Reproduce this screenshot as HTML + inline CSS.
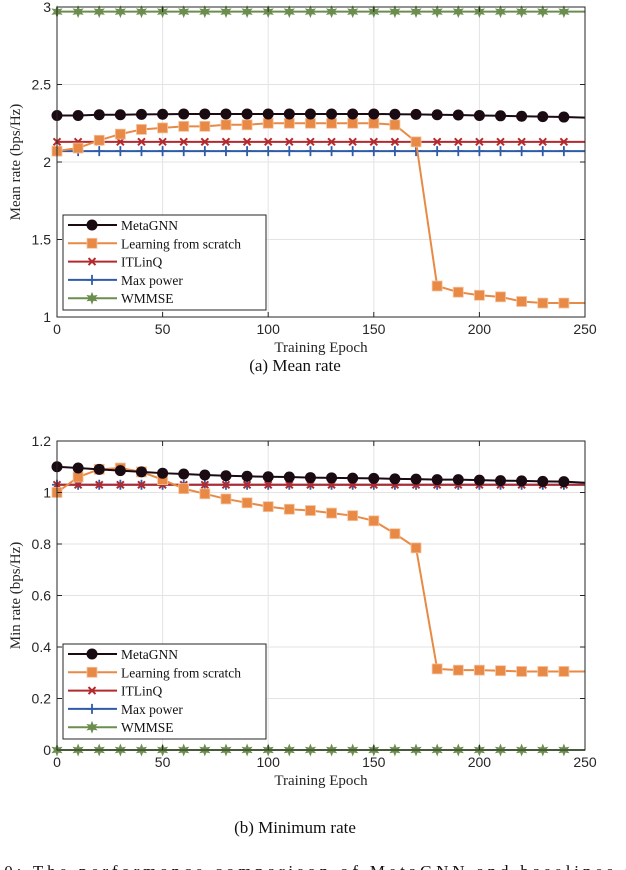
<!DOCTYPE html>
<html><head><meta charset="utf-8"><style>
body{margin:0;background:#fff;width:626px;height:870px;overflow:hidden}
svg{display:block}
</style></head><body>
<svg id="s" width="626" height="870" xmlns="http://www.w3.org/2000/svg"></svg>
<script>
const epochs=[0,10,20,30,40,50,60,70,80,90,100,110,120,130,140,150,160,170,180,190,200,210,220,230,240];
const meanMeta=[2.30,2.30,2.305,2.305,2.307,2.308,2.31,2.31,2.31,2.31,2.31,2.31,2.31,2.31,2.31,2.31,2.308,2.307,2.305,2.303,2.30,2.298,2.295,2.293,2.29];
const meanScratch=[2.07,2.09,2.14,2.18,2.21,2.22,2.23,2.23,2.24,2.24,2.25,2.25,2.25,2.25,2.25,2.25,2.24,2.13,1.20,1.16,1.14,1.13,1.10,1.09,1.09];
const meanITL=2.13, meanMax=2.07, meanWMMSE=2.97;
const minMeta=[1.10,1.095,1.09,1.085,1.08,1.075,1.072,1.068,1.065,1.063,1.061,1.06,1.058,1.057,1.056,1.055,1.053,1.052,1.05,1.05,1.048,1.046,1.045,1.043,1.042];
const minScratch=[1.00,1.06,1.09,1.095,1.08,1.05,1.015,0.995,0.975,0.96,0.945,0.935,0.93,0.92,0.91,0.89,0.84,0.785,0.315,0.31,0.31,0.308,0.305,0.305,0.305];
const minITL=1.03, minMax=1.03, minWMMSE=0.0;
const meanTicks=[1,1.5,2,2.5,3], minTicks=[0,0.2,0.4,0.6,0.8,1,1.2], xTicks=[0,50,100,150,200,250];
const NS="http://www.w3.org/2000/svg", S=document.getElementById('s');
function el(t,a,p){const e=document.createElementNS(NS,t);for(const k in a)e.setAttribute(k,a[k]);(p||S).appendChild(e);return e;}
const C={meta:'#1a0a12',scratch:'#e88a45',itl:'#b22a2e',max:'#2f5ba8',wm:'#6b8e4e'};
function marker(g,type,x,y,col){
  let m;
  if(type==='circle')m=el('circle',{cx:x,cy:y,r:5.5,fill:col},g);
  else if(type==='square')m=el('rect',{x:x-5,y:y-5,width:10,height:10,fill:col,stroke:'#f4c4a0','stroke-width':0.8},g);
  else if(type==='x')m=el('path',{d:`M${x-3.5},${y-3.5}L${x+3.5},${y+3.5}M${x-3.5},${y+3.5}L${x+3.5},${y-3.5}`,stroke:col,'stroke-width':2},g);
  else if(type==='plus')m=el('path',{d:`M${x-5},${y}L${x+5},${y}M${x},${y-5}L${x},${y+5}`,stroke:col,'stroke-width':1.8},g);
  else {let d='';for(let i=0;i<12;i++){const r=i%2?3:6.5,a=i*Math.PI/6-Math.PI/2;d+=(i?'L':'M')+(x+r*Math.cos(a)).toFixed(1)+','+(y+r*Math.sin(a)).toFixed(1);}m=el('path',{d:d+'Z',fill:col},g);}
  
  
}
function chart(o){
  const X0=57,X1=585,xs=v=>X0+(v-0)/(250)*(X1-X0);
  const ys=v=>o.yb-(v-o.ymin)/(o.ymax-o.ymin)*(o.yb-o.yt);
  const g=el('g',{});
  
  
  xTicks.forEach(t=>{el('line',{x1:xs(t),x2:xs(t),y1:o.yt,y2:o.yb,stroke:'#e3e3e3','stroke-width':1},g);});
  o.ticks.forEach(t=>{el('line',{x1:X0,x2:X1,y1:ys(t),y2:ys(t),stroke:'#e3e3e3','stroke-width':1},g);});
  const series=[
    {n:'WMMSE',c:C.wm,m:'star',v:epochs.map(()=>o.wm)},
    {n:'Max power',c:C.max,m:'plus',v:epochs.map(()=>o.mx)},
    {n:'ITLinQ',c:C.itl,m:'x',v:epochs.map(()=>o.itl)},
    {n:'Learning from scratch',c:C.scratch,m:'square',v:o.scratch},
    {n:'MetaGNN',c:C.meta,m:'circle',v:o.meta}];
  series.forEach(s=>{
    const sg=el('g',{},g);
    
    
    let d=s.v.map((v,i)=>(i?'L':'M')+xs(epochs[i])+','+ys(v)).join('');
    d+='L'+xs(250)+','+ys(s.v[s.v.length-1]+(s.n==='MetaGNN'?-0.004:0));
    el('path',{d:d,fill:'none',stroke:s.c,'stroke-width':2},sg);
    s.v.forEach((v,i)=>marker(sg,s.m,xs(epochs[i]),ys(v),s.c));
  });
  el('rect',{x:X0,y:o.yt,width:X1-X0,height:o.yb-o.yt,fill:'none',stroke:'#262626','stroke-width':1},g);
  xTicks.forEach(t=>{
    el('line',{x1:xs(t),x2:xs(t),y1:o.yb,y2:o.yb-5,stroke:'#262626'},g);
    el('line',{x1:xs(t),x2:xs(t),y1:o.yt,y2:o.yt+5,stroke:'#262626'},g);
    const tx=el('text',{x:xs(t),y:o.yb+17,'text-anchor':'middle','font-family':'Liberation Sans, sans-serif','font-size':14,fill:'#262626'},g);tx.textContent=t;
    
    
  });
  o.ticks.forEach(t=>{
    el('line',{x1:X0,x2:X0+5,y1:ys(t),y2:ys(t),stroke:'#262626'},g);
    el('line',{x1:X1,x2:X1-5,y1:ys(t),y2:ys(t),stroke:'#262626'},g);
    const tx=el('text',{x:X0-6,y:ys(t)+5,'text-anchor':'end','font-family':'Liberation Sans, sans-serif','font-size':14,fill:'#262626'},g);tx.textContent=String(t);
    
    
  });
  const xl=el('text',{x:(X0+X1)/2,y:o.yb+35,'text-anchor':'middle','font-family':'Liberation Serif, serif','font-size':15,fill:'#262626'},g);xl.textContent='Training Epoch';
  
  
  const cy=(o.yt+o.yb)/2;
  const yl=el('text',{x:20,y:cy,transform:`rotate(-90 20 ${cy})`,'text-anchor':'middle','font-family':'Liberation Serif, serif','font-size':15,fill:'#262626'},g);yl.textContent=o.ylabel;
  
  
  const lg=el('g',{},g);
  
  
  el('rect',{x:63,y:o.ly,width:203,height:95,fill:'#fff',stroke:'#262626','stroke-width':1},lg);
  series.slice().reverse().forEach((s,i)=>{
    const yy=o.ly+10+i*18.3;
    el('line',{x1:68,x2:117,y1:yy,y2:yy,stroke:s.c,'stroke-width':2},lg);
    marker(lg,s.m,92,yy,s.c);
    const t=el('text',{x:121,y:yy+5,'font-family':'Liberation Serif, serif','font-size':13.5,fill:'#111'},lg);t.textContent=s.n;
    
    
  });
  const cap=el('text',{x:295,y:o.cap,'text-anchor':'middle','font-family':'Liberation Serif, serif','font-size':17,fill:'#111'},g);cap.textContent=o.caption;
  
  
}
chart({name:'mean-rate-chart',yt:7,yb:317,ymin:1,ymax:3,ticks:meanTicks,meta:meanMeta,scratch:meanScratch,itl:meanITL,mx:meanMax,wm:meanWMMSE,ylabel:'Mean rate (bps/Hz)',ly:215,cap:371,caption:'(a)  Mean rate'});
chart({name:'min-rate-chart',yt:441,yb:750,ymin:0,ymax:1.2,ticks:minTicks,meta:minMeta,scratch:minScratch,itl:minITL,mx:minMax,wm:minWMMSE,ylabel:'Min rate (bps/Hz)',ly:644,cap:833,caption:'(b)  Minimum rate'});
const fc=el('text',{x:-8,y:877,'font-family':'Liberation Serif, serif','font-size':17,fill:'#111',textLength:'650',lengthAdjust:'spacing'});
fc.textContent='10:  The  performance  comparison  of  MetaGNN  and  baselines  in';


</script>
</body></html>
